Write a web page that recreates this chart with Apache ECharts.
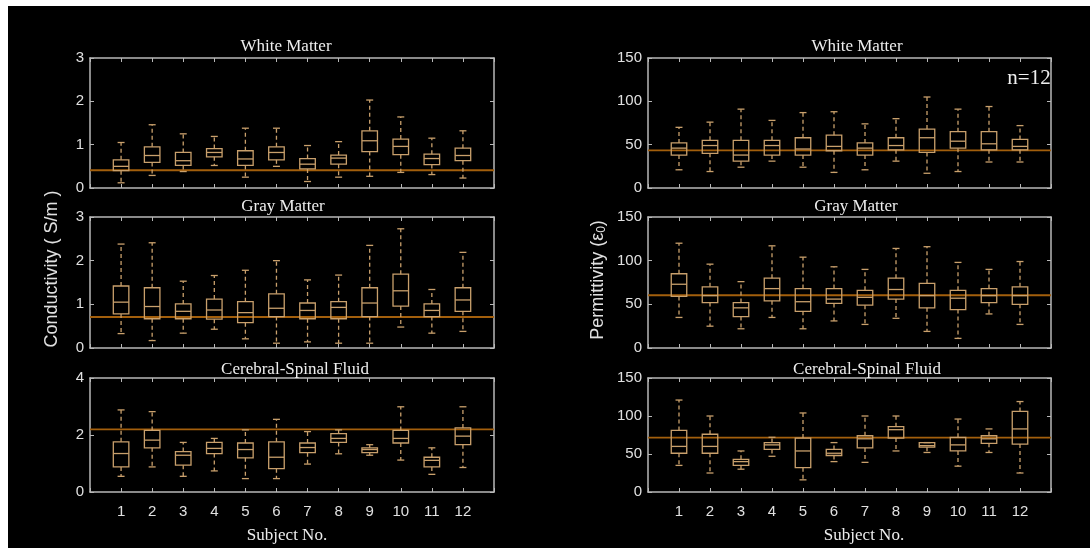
<!DOCTYPE html>
<html><head><meta charset="utf-8">
<script src="https://cdn.jsdelivr.net/npm/echarts@6/dist/echarts.min.js"></script>
<style>html,body{margin:0;padding:0;background:#fff}#c{width:1090px;height:548px}</style>
</head><body><div id="c"></div>
<script>
// Subject numbers (x positions)
const subjects = [1,2,3,4,5,6,7,8,9,10,11,12];
// Each row: [min, q1, median, q3, max]
const wmCond = [
 [0.12,0.40,0.50,0.65,1.05],[0.29,0.59,0.75,0.95,1.46],[0.38,0.52,0.63,0.82,1.25],
 [0.52,0.72,0.82,0.91,1.19],[0.25,0.52,0.67,0.86,1.38],[0.50,0.65,0.82,0.95,1.38],
 [0.15,0.44,0.55,0.68,0.98],[0.25,0.55,0.69,0.76,1.07],[0.27,0.84,1.09,1.32,2.03],
 [0.36,0.77,0.96,1.13,1.64],[0.31,0.54,0.68,0.78,1.15],[0.23,0.63,0.75,0.92,1.32]];
const gmCond = [
 [0.33,0.78,1.05,1.42,2.38],[0.17,0.67,0.95,1.38,2.41],[0.34,0.67,0.84,1.01,1.53],
 [0.43,0.66,0.87,1.12,1.66],[0.21,0.58,0.81,1.06,1.78],[0.11,0.72,0.91,1.24,2.00],
 [0.14,0.67,0.86,1.03,1.56],[0.11,0.67,0.93,1.06,1.67],[0.11,0.72,1.03,1.38,2.35],
 [0.48,0.96,1.31,1.69,2.73],[0.34,0.72,0.86,1.01,1.34],[0.38,0.84,1.10,1.38,2.19]];
const csfCond = [
 [0.55,0.88,1.35,1.76,2.88],[0.88,1.55,1.82,2.16,2.82],[0.55,0.94,1.29,1.42,1.74],
 [0.74,1.35,1.53,1.74,1.88],[0.47,1.20,1.49,1.72,2.18],[0.47,0.82,1.22,1.76,2.55],
 [0.98,1.38,1.56,1.72,2.12],[1.34,1.74,1.88,2.05,2.18],[1.29,1.38,1.49,1.55,1.66],
 [1.12,1.72,1.88,2.16,2.99],[0.62,0.88,1.11,1.22,1.55],[0.86,1.66,1.96,2.25,2.99]];
const wmPerm = [
 [21,38,46,52,70],[19,40,49,55,76],[24,31,38,55,91],[31,38,49,55,78],
 [24,38,45,58,87],[18,43,48,61,88],[21,38,46,52,74],[31,44,49,58,80],
 [17,41,58,68,105],[19,46,54,65,91],[30,44,51,65,94],[30,44,48,56,72]];
const gmPerm = [
 [35,59,73,85,120],[25,52,60,70,96],[22,36,46,52,76],[35,54,68,80,117],
 [22,42,53,68,104],[31,51,56,68,93],[27,49,58,66,90],[34,56,67,80,114],
 [19,46,60,74,116],[11,44,57,66,98],[39,52,60,68,90],[27,50,60,70,99]];
const csfPerm = [
 [35,51,60,81,121],[25,51,60,76,100],[30,35,40,43,54],[47,56,62,65,72],
 [16,32,54,71,104],[40,48,51,56,65],[39,58,70,74,100],[54,71,82,86,100],
 [52,59,61,65,65],[34,54,62,72,96],[52,64,70,74,83],[25,63,83,106,119]];
// Reference (horizontal line) values per panel
const refCond = [0.41, 0.71, 2.2];
const refPerm = [43.5, 60.4, 71.5];
// Panel titles and axis ticks
const panelTitles = ['White Matter','Gray Matter','Cerebral-Spinal Fluid'];
const condMax = [3, 3, 4], condInterval = [1, 1, 2];
const permMax = [150, 150, 150], permInterval = [50, 50, 50];

const BOX = '#c9a06c', REF = '#a35f0c', AXIS = '#b8b8b8', TXT = '#e0e0e0';
const lefts = [90, 648], widths = [404, 403];
const tops = [58, 217, 378], heights = [130, 131, 114];

const panels = [
 {col:0,row:0,data:wmCond,ref:refCond[0],max:condMax[0],iv:condInterval[0]},
 {col:0,row:1,data:gmCond,ref:refCond[1],max:condMax[1],iv:condInterval[1]},
 {col:0,row:2,data:csfCond,ref:refCond[2],max:condMax[2],iv:condInterval[2]},
 {col:1,row:0,data:wmPerm,ref:refPerm[0],max:permMax[0],iv:permInterval[0]},
 {col:1,row:1,data:gmPerm,ref:refPerm[1],max:permMax[1],iv:permInterval[1]},
 {col:1,row:2,data:csfPerm,ref:refPerm[2],max:permMax[2],iv:permInterval[2]}
];

const grid=[], xAxis=[], yAxis=[], series=[];
const axisLine = {show:true, onZero:false, lineStyle:{color:AXIS, width:1.5}};
const tick = {show:true, inside:true, length:4, lineStyle:{color:AXIS, width:1}};
panels.forEach((p,i)=>{
  grid.push({left:lefts[p.col], top:tops[p.row], width:widths[p.col], height:heights[p.row]});
  const bottomRow = p.row===2;
  xAxis.push({gridIndex:i, type:'value', min:0, max:13, interval:1, position:'bottom',
    axisLine, axisTick:tick, splitLine:{show:false},
    axisLabel:{show:bottomRow, margin:12, color:TXT, fontSize:15, fontFamily:'Liberation Sans',
      formatter:v=> (v>=1 && v<=12) ? String(v) : ''}});
  xAxis.push({gridIndex:i, type:'value', min:0, max:13, interval:1, position:'top',
    axisLine, axisTick:tick, splitLine:{show:false}, axisLabel:{show:false}});
  yAxis.push({gridIndex:i, type:'value', min:0, max:p.max, interval:p.iv, position:'left',
    axisLine, axisTick:tick, splitLine:{show:false},
    axisLabel:{margin:6, color:TXT, fontSize:15, fontFamily:'Liberation Sans'}});
  yAxis.push({gridIndex:i, type:'value', min:0, max:p.max, interval:p.iv, position:'right',
    axisLine, axisTick:tick, splitLine:{show:false}, axisLabel:{show:false}});
  series.push({type:'line', xAxisIndex:2*i, yAxisIndex:2*i, silent:true, symbol:'none',
    data:[[0,p.ref],[13,p.ref]], lineStyle:{color:REF, width:1.8}, z:3});
  series.push({type:'custom', xAxisIndex:2*i, yAxisIndex:2*i, z:4,
    data: p.data.map((d,k)=>[subjects[k]].concat(d)),
    encode:{x:0, y:[1,2,3,4,5]},
    renderItem:(params, api)=>{
      const x = api.value(0);
      const pMin = api.coord([x, api.value(1)]);
      const pQ1 = api.coord([x, api.value(2)]);
      const pMed = api.coord([x, api.value(3)]);
      const pQ3 = api.coord([x, api.value(4)]);
      const pMax = api.coord([x, api.value(5)]);
      const hw = api.size([1,0])[0]*0.25;
      const cw = hw*0.45;
      const cx = pMed[0];
      const solid = {stroke:BOX, lineWidth:1.3, fill:null};
      const dash = {stroke:BOX, lineWidth:1.3, lineDash:[4,3], fill:null};
      return {type:'group', children:[
        {type:'line', shape:{x1:cx,y1:pQ3[1],x2:cx,y2:pMax[1]}, style:dash},
        {type:'line', shape:{x1:cx,y1:pQ1[1],x2:cx,y2:pMin[1]}, style:dash},
        {type:'line', shape:{x1:cx-cw,y1:pMax[1],x2:cx+cw,y2:pMax[1]}, style:solid},
        {type:'line', shape:{x1:cx-cw,y1:pMin[1],x2:cx+cw,y2:pMin[1]}, style:solid},
        {type:'rect', shape:{x:cx-hw, y:pQ3[1], width:2*hw, height:pQ1[1]-pQ3[1]}, style:solid},
        {type:'line', shape:{x1:cx-hw,y1:pMed[1],x2:cx+hw,y2:pMed[1]}, style:solid}
      ]};
    }});
});

const titleCenters = [[281,43],[278,203],[290,366],[852,43],[851,203],[862,366]];
const titles = titleCenters.map((c,i)=>({text:panelTitles[i%3], left:c[0], top:c[1]-10, textAlign:'center',
  textStyle:{color:'#eeeeee', fontFamily:'Liberation Serif', fontWeight:'normal', fontSize:17}}));
titles.push({text:'Subject No.', left:282, top:522, textAlign:'center',
  textStyle:{color:'#eeeeee', fontFamily:'Liberation Serif', fontWeight:'normal', fontSize:17}});
titles.push({text:'Subject No.', left:859, top:522, textAlign:'center',
  textStyle:{color:'#eeeeee', fontFamily:'Liberation Serif', fontWeight:'normal', fontSize:17}});
titles.push({text:'n=12', left:1024, top:63, textAlign:'center',
  textStyle:{color:'#eeeeee', fontFamily:'Liberation Serif', fontWeight:'normal', fontSize:21}});

const chart = echarts.init(document.getElementById('c'));
chart.setOption({
  backgroundColor:'#ffffff',
  animation:false,
  title:titles,
  grid, xAxis, yAxis, series,
  graphic:[
    {type:'rect', z:-10, silent:true, shape:{x:8,y:6,width:1082,height:542}, style:{fill:'#000000'}},
    {type:'text', x:52, y:269, rotation:Math.PI/2, silent:true,
      style:{text:'Conductivity ( S/m )', fill:TXT, font:'18px "Liberation Sans"', align:'center', verticalAlign:'middle'}},
    {type:'text', x:598, y:280, rotation:Math.PI/2, silent:true,
      style:{text:'Permittivity (ε{s|0})', fill:TXT, font:'18px "Liberation Sans"', align:'center', verticalAlign:'middle',
        rich:{s:{fontSize:12, verticalAlign:'bottom', fill:TXT, padding:[7,0,0,0]}}}}
  ]
});
</script></body></html>
